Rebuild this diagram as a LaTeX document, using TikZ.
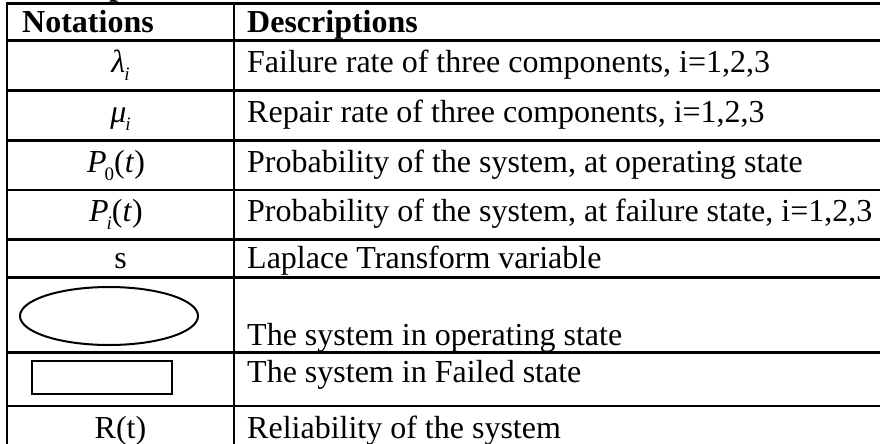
\documentclass[tikz,border=0pt]{standalone}
\usepackage{fontspec}
\setmainfont{Liberation Serif}
\usetikzlibrary{shapes.geometric}
\newcommand{\sbx}[1]{\raisebox{-8pt}{\fontsize{19}{21}\selectfont #1}}
\begin{document}
\begin{tikzpicture}[x=1pt,y=-1pt,
  rule/.style={line width=2.6pt},
  txt/.style={inner sep=0pt,font=\fontsize{32}{38}\selectfont},
  desc/.style={txt,anchor=base west},
  nota/.style={txt,anchor=base},
  head/.style={txt,anchor=base west,font=\fontsize{32}{38}\selectfont\bfseries}]
\useasboundingbox (0,0) rectangle (880,444);
\clip (0,0) rectangle (880,444);
% table rules
\foreach \y in {3.5,40.7,90.7,140.7,190,239.3,277.3,352.7,406}
  \draw[rule] (5.7,\y) -- (890,\y);
\draw[rule] (7,2.2) -- (7,460);
\draw[rule] (234,2.2) -- (234,460);
% cut-off title above the table
\node[head,anchor=base west] (title) at (109,-4) {p};
% header
\node[head] (hn) at (22,33) {Notations};
\node[head] (hd) at (247,33) {Descriptions};
% rows
\node[nota] (n1) at (120.5,72) {\itshape λ\kern-1pt\sbx{i}};
\node[desc] (d1) at (247,72) {Failure rate of three components, i=1,2,3};
\node[nota] (n2) at (120.5,122) {\itshape μ\kern-1pt\sbx{i}};
\node[desc] (d2) at (247,122) {Repair rate of three components, i=1,2,3};
\node[nota] (n3) at (116,172) {\textit{P}\kern-2pt\sbx{0}(\textit{t})};
\node[desc] (d3) at (247,172) {Probability of the system, at operating state};
\node[nota] (n4) at (116,221) {\textit{P}\kern-2pt\sbx{\itshape i}(\textit{t})};
\node[desc] (d4) at (247,221) {Probability of the system, at failure state, i=1,2,3};
\node[nota] (n5) at (120.5,268) {s};
\node[desc] (d5) at (247,268) {Laplace Transform variable};
\node[draw,line width=2pt,ellipse,minimum width=178pt,minimum height=58pt,inner sep=0pt] (n6) at (109,316) {};
\node[desc] (d6) at (247,345) {The system in operating state};
\node[draw,line width=2pt,rectangle,minimum width=140pt,minimum height=33pt,inner sep=0pt] (n7) at (102,377.5) {};
\node[desc] (d7) at (247,382) {The system in Failed state};
\node[nota] (n8) at (120.5,438) {R(t)};
\node[desc] (d8) at (247,438) {Reliability of the system};
\end{tikzpicture}
\end{document}
